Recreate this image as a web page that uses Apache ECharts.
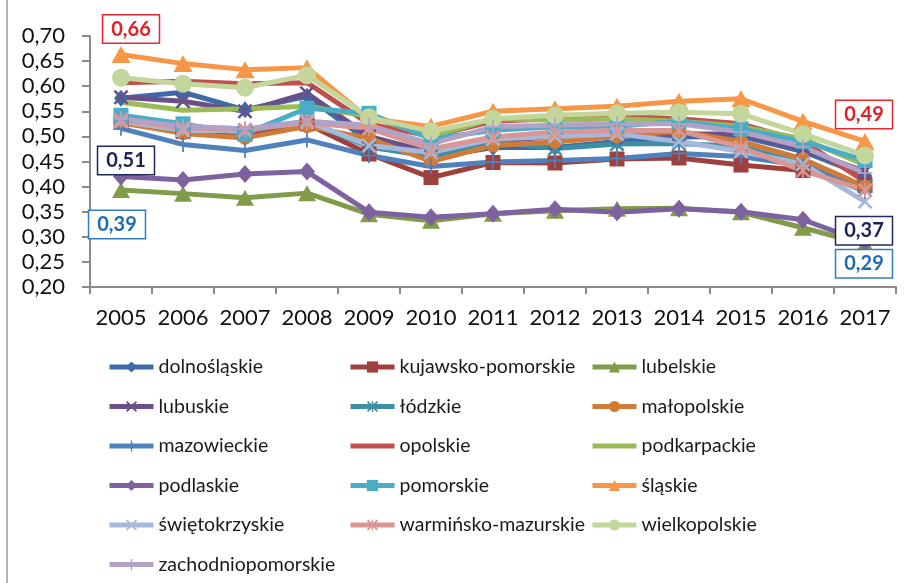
<!DOCTYPE html>
<html>
<head>
<meta charset="utf-8">
<script src="https://cdn.jsdelivr.net/npm/echarts@6/dist/echarts.min.js"></script>
<style>
  html, body { margin: 0; padding: 0; background: #fff; }
  #chart { width: 910px; height: 583px; }
</style>
</head>
<body>
<div id="chart"></div>
<script>
// lata
var years = ['2005', '2006', '2007', '2008', '2009', '2010', '2011', '2012', '2013', '2014', '2015', '2016', '2017'];

// wartości województw
var dolnoslaskie = [0.576, 0.588, 0.553, 0.580, 0.490, 0.458, 0.478, 0.478, 0.490, 0.499, 0.500, 0.470, 0.422];
var kujawskoPomorskie = [0.528, 0.510, 0.505, 0.525, 0.465, 0.418, 0.448, 0.447, 0.455, 0.457, 0.443, 0.432, 0.403];
var lubelskie = [0.393, 0.386, 0.378, 0.387, 0.345, 0.332, 0.346, 0.352, 0.356, 0.357, 0.349, 0.318, 0.285];
var lubuskie = [0.578, 0.570, 0.550, 0.586, 0.500, 0.468, 0.490, 0.500, 0.505, 0.505, 0.505, 0.475, 0.430];
var lodzkie = [0.530, 0.515, 0.510, 0.530, 0.479, 0.460, 0.490, 0.476, 0.485, 0.486, 0.480, 0.445, 0.400];
var malopolskie = [0.527, 0.506, 0.497, 0.520, 0.496, 0.450, 0.482, 0.489, 0.500, 0.510, 0.490, 0.455, 0.400];
var mazowieckie = [0.516, 0.484, 0.472, 0.493, 0.462, 0.440, 0.449, 0.452, 0.456, 0.466, 0.460, 0.442, 0.390];
var opolskie = [0.607, 0.610, 0.605, 0.607, 0.525, 0.500, 0.530, 0.535, 0.540, 0.535, 0.525, 0.490, 0.410];
var podkarpackie = [0.568, 0.552, 0.555, 0.560, 0.540, 0.500, 0.535, 0.532, 0.535, 0.530, 0.520, 0.495, 0.443];
var podlaskie = [0.420, 0.413, 0.425, 0.430, 0.349, 0.339, 0.346, 0.355, 0.349, 0.356, 0.350, 0.334, 0.289];
var pomorskie = [0.542, 0.525, 0.505, 0.556, 0.546, 0.495, 0.512, 0.519, 0.520, 0.530, 0.515, 0.490, 0.452];
var slaskie = [0.663, 0.645, 0.633, 0.637, 0.535, 0.520, 0.550, 0.555, 0.560, 0.570, 0.575, 0.530, 0.490];
var swietokrzyskie = [0.530, 0.512, 0.512, 0.530, 0.482, 0.468, 0.495, 0.500, 0.505, 0.490, 0.470, 0.445, 0.370];
var warminskoMazurskie = [0.533, 0.517, 0.513, 0.527, 0.516, 0.475, 0.499, 0.509, 0.512, 0.512, 0.478, 0.432, 0.393];
var wielkopolskie = [0.617, 0.605, 0.597, 0.622, 0.538, 0.510, 0.535, 0.542, 0.546, 0.548, 0.545, 0.505, 0.462];
var zachodniopomorskie = [0.535, 0.520, 0.515, 0.530, 0.522, 0.485, 0.519, 0.522, 0.525, 0.525, 0.509, 0.479, 0.427];

// ramki z wartościami
var boxLabels = ['0,66', '0,49', '0,51', '0,37', '0,39', '0,29'];
var boxValues = [0.66, 0.49, 0.51, 0.37, 0.39, 0.29];
var boxYears = ['2005', '2017', '2005', '2017', '2005', '2017'];

var yTicks = [0.20, 0.25, 0.30, 0.35, 0.40, 0.45, 0.50, 0.55, 0.60, 0.65, 0.70];

/* symbole rysowane ścieżką */
var SYM_X = 'path://M0,1.2 L1.2,0 L10,8.8 L8.8,10 Z M8.8,0 L10,1.2 L1.2,10 L0,8.8 Z';
var SYM_PLUS = 'path://M4.4,0 H5.6 V10 H4.4 Z M0,4.4 H10 V5.6 H0 Z';
var SYM_STAR = 'path://M0,1.2 L1.2,0 L10,8.8 L8.8,10 Z M8.8,0 L10,1.2 L1.2,10 L0,8.8 Z M4.4,0 H5.6 V10 H4.4 Z';

var FONT = 'Lato';

function makeSeries(name, data, color, symbol, size) {
  return {
    name: name,
    type: 'line',
    data: data,
    symbol: symbol || 'none',
    symbolSize: size || 14,
    showSymbol: !!symbol,
    lineStyle: { width: 5, color: color },
    itemStyle: { color: color },
    emphasis: { disabled: true }
  };
}

var series = [
  makeSeries('dolnośląskie', dolnoslaskie, '#3E6BA5', 'diamond', [14, 17]),
  makeSeries('kujawsko-pomorskie', kujawskoPomorskie, '#9E403D', 'rect', 15),
  makeSeries('lubelskie', lubelskie, '#809B49', 'triangle', [18, 16]),
  makeSeries('lubuskie', lubuskie, '#6A5089', SYM_X, 15),
  makeSeries('łódzkie', lodzkie, '#3D8FA5', SYM_STAR, 15),
  makeSeries('małopolskie', malopolskie, '#D27B36', 'circle', 14),
  makeSeries('mazowieckie', mazowieckie, '#4F81BD', SYM_PLUS, 15),
  makeSeries('opolskie', opolskie, '#C0504D'),
  makeSeries('podkarpackie', podkarpackie, '#9BBB59'),
  makeSeries('podlaskie', podlaskie, '#7E62A0', 'diamond', [16, 18]),
  makeSeries('pomorskie', pomorskie, '#4BACC6', 'rect', 15),
  makeSeries('śląskie', slaskie, '#F79646', 'triangle', [19, 17]),
  makeSeries('świętokrzyskie', swietokrzyskie, '#A7B9DA', SYM_X, 15),
  makeSeries('warmińsko-mazurskie', warminskoMazurskie, '#D99694', SYM_STAR, 15),
  makeSeries('wielkopolskie', wielkopolskie, '#C3D69B', 'circle', 18),
  makeSeries('zachodniopomorskie', zachodniopomorskie, '#B3A2C7', SYM_PLUS, 15)
];

/* ramki z wartościami jako markPoint na ostatniej serii */
var boxStyle = [
  { border: '#E8262C', text: '#E31E24', offset: [10, -27] },
  { border: '#E8262C', text: '#E31E24', offset: [-1, -27] },
  { border: '#1F2A5C', text: '#1B2354', offset: [5, 29] },
  { border: '#1F2A5C', text: '#1B2354', offset: [-1, 29] },
  { border: '#2E7DC2', text: '#1E6DB3', offset: [-4, 33] },
  { border: '#2E7DC2', text: '#1E6DB3', offset: [-1, 22] }
];
var markData = boxLabels.map(function (txt, i) {
  return {
    coord: [boxYears[i], boxValues[i]],
    symbol: 'circle',
    symbolSize: 1,
    itemStyle: { color: 'rgba(0,0,0,0)' },
    label: {
      show: true,
      position: 'inside',
      offset: boxStyle[i].offset,
      formatter: txt,
      fontFamily: FONT,
      fontWeight: 'bold',
      fontSize: 20,
      color: boxStyle[i].text,
      backgroundColor: '#fff',
      borderColor: boxStyle[i].border,
      borderWidth: 1.5,
      padding: [4, 8, 3, 8]
    }
  };
});
series[series.length - 1].markPoint = { silent: true, animation: false, data: markData };

/* legenda w trzech kolumnach */
function legendCol(left, idx) {
  return {
    orient: 'vertical',
    left: left,
    top: 357,
    height: 226,
    padding: 0,
    itemWidth: 44,
    itemHeight: 14,
    itemGap: 19.5,
    lineStyle: { width: 5 },
    data: idx.map(function (i) {
      var s = series[i];
      if (s.symbol === 'none') {
        return { name: s.name, itemStyle: { opacity: 0 } };
      }
      return s.name;
    }),
    textStyle: { fontFamily: FONT, fontSize: 19.5, color: '#1a1a1a' }
  };
}

var option = {
  animation: false,
  backgroundColor: '#fff',
  grid: { left: 90, right: 14, top: 36, bottom: 296 },
  legend: [
    legendCol(107, [0, 3, 6, 9, 12, 15]),
    legendCol(348, [1, 4, 7, 10, 13]),
    legendCol(590, [2, 5, 8, 11, 14])
  ],
  xAxis: {
    type: 'category',
    data: years,
    boundaryGap: true,
    axisLine: { lineStyle: { color: '#8a8a8a', width: 2 } },
    axisTick: { show: true, length: 7, lineStyle: { color: '#8a8a8a', width: 2 } },
    axisLabel: { interval: 0, margin: 20, fontFamily: FONT, fontSize: 22, color: '#111' }
  },
  yAxis: {
    type: 'value',
    min: yTicks[0],
    max: yTicks[yTicks.length - 1],
    interval: 0.05,
    axisLine: { show: true, lineStyle: { color: '#8a8a8a', width: 2 } },
    axisTick: { show: true, length: 8, lineStyle: { color: '#8a8a8a', width: 2 } },
    splitLine: { show: false },
    axisLabel: {
      margin: 25,
      fontFamily: FONT,
      fontSize: 22,
      color: '#111',
      formatter: function (v) { return v.toFixed(2).replace('.', ','); }
    }
  },
  graphic: [
    { type: 'line', shape: { x1: 7, y1: 0, x2: 7, y2: 583 }, style: { stroke: '#9a9a9a', lineWidth: 1.5 } }
  ],
  series: series
};

var chart = echarts.init(document.getElementById('chart'));
chart.setOption(option);
</script>
</body>
</html>
